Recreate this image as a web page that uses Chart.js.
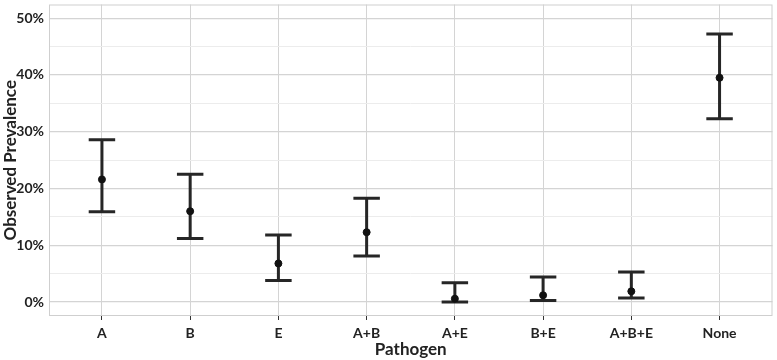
<!DOCTYPE html>
<html>
<head>
<meta charset="utf-8">
<script src="https://cdn.jsdelivr.net/npm/chart.js@4"></script>
<style>
  html, body { margin: 0; padding: 0; background: #ffffff; }
  canvas { display: block; }
</style>
</head>
<body>
<canvas id="prevalenceChart" width="777" height="360"></canvas>
<script>
// Observed prevalence (%) per pathogen with lower/upper interval
const pathogens = ["A", "B", "E", "A+B", "A+E", "B+E", "A+B+E", "None"];
const prevalence = [21.6, 16.0, 6.8, 12.3, 0.6, 1.2, 1.9, 39.5];
const lowerCI = [15.9, 11.2, 3.8, 8.1, 0.0, 0.3, 0.7, 32.3];
const upperCI = [28.6, 22.5, 11.8, 18.3, 3.4, 4.4, 5.3, 47.2];
const yTicks = [0, 5, 10, 15, 20, 25, 30, 35, 40, 45, 50];

const barColor = '#262626';
const textFont = { family: 'Lato', size: 14, weight: 'bold' };
const titleFont = { family: 'Lato', size: 17, weight: 'bold' };

// Draw the error bars through the scales, under the points
const errorBars = {
    id: 'errorBars',
    beforeDatasetsDraw(chart) {
        const ctx = chart.ctx;
        const xs = chart.scales.x;
        const ys = chart.scales.y;
        ctx.save();
        ctx.strokeStyle = barColor;
        ctx.lineWidth = 3;
        ctx.lineCap = 'butt';
        for (let i = 0; i < pathogens.length; i++) {
            const x = xs.getPixelForValue(i + 1);
            const capHalf = (xs.getPixelForValue(1.15) - xs.getPixelForValue(1));
            const yLo = ys.getPixelForValue(lowerCI[i]);
            const yHi = ys.getPixelForValue(upperCI[i]);
            ctx.beginPath();
            ctx.moveTo(x, yLo);
            ctx.lineTo(x, yHi);
            ctx.moveTo(x - capHalf, yLo);
            ctx.lineTo(x + capHalf, yLo);
            ctx.moveTo(x - capHalf, yHi);
            ctx.lineTo(x + capHalf, yHi);
            ctx.stroke();
        }
        ctx.restore();
    }
};

// Light border round the panel
const panelBorder = {
    id: 'panelBorder',
    beforeDatasetsDraw(chart) {
        const a = chart.chartArea;
        const ctx = chart.ctx;
        ctx.save();
        ctx.strokeStyle = '#cfcfcf';
        ctx.lineWidth = 1;
        ctx.strokeRect(a.left + 0.5, a.top + 0.5, a.right - a.left - 1, a.bottom - a.top - 1);
        ctx.restore();
    }
};

const points = prevalence.map((v, i) => ({ x: i + 1, y: v }));

const ctx = document.getElementById('prevalenceChart').getContext('2d');
new Chart(ctx, {
    type: 'scatter',
    data: {
        datasets: [{
            data: points,
            backgroundColor: '#111111',
            borderColor: '#111111',
            pointRadius: 3.5,
            pointHoverRadius: 3.5,
        }]
    },
    options: {
        responsive: false,
        animation: false,
        maintainAspectRatio: false,
        layout: { padding: { top: 2, right: 2, left: 0, bottom: 0 } },
        plugins: {
            legend: { display: false },
            tooltip: { enabled: false },
        },
        scales: {
            x: {
                type: 'linear',
                min: 0.4,
                max: 8.6,
                afterBuildTicks(scale) {
                    scale.ticks = pathogens.map((p, i) => ({ value: i + 1 }));
                },
                afterFit(scale) {
                    scale.height = 44;
                    scale.paddingLeft = 0;
                    scale.paddingRight = 0;
                },
                ticks: {
                    autoSkip: false,
                    maxRotation: 0,
                    padding: 5,
                    color: '#222222',
                    font: textFont,
                    callback: (v) => pathogens[Math.round(v) - 1],
                },
                grid: {
                    color: '#d4d4d4',
                    lineWidth: 1,
                    tickColor: '#333333',
                    tickLength: 4,
                },
                border: { display: false },
                title: {
                    display: true,
                    text: 'Pathogen',
                    color: '#222222',
                    font: titleFont,
                    padding: { top: -4, bottom: 0 },
                },
            },
            y: {
                min: -2.45,
                max: 52.4,
                afterBuildTicks(scale) {
                    scale.ticks = yTicks.map(v => ({ value: v }));
                },
                afterFit(scale) {
                    scale.width = 49;
                    scale.paddingTop = 0;
                    scale.paddingBottom = 0;
                },
                ticks: {
                    autoSkip: false,
                    padding: 5,
                    color: '#222222',
                    font: textFont,
                    callback: (v) => (v % 10 === 0 ? v + '%' : ''),
                },
                grid: {
                    color: (c) => (c.tick && c.tick.value % 10 === 0 ? '#d4d4d4' : '#ececec'),
                    lineWidth: (c) => (c.tick && c.tick.value % 10 === 0 ? 1.2 : 1),
                    tickLength: 0,
                },
                border: { display: false },
                title: {
                    display: true,
                    text: 'Observed Prevalence',
                    color: '#222222',
                    font: titleFont,
                    padding: { top: 0, bottom: 0 },
                },
            },
        },
    },
    plugins: [panelBorder, errorBars],
});
</script>
</body>
</html>
